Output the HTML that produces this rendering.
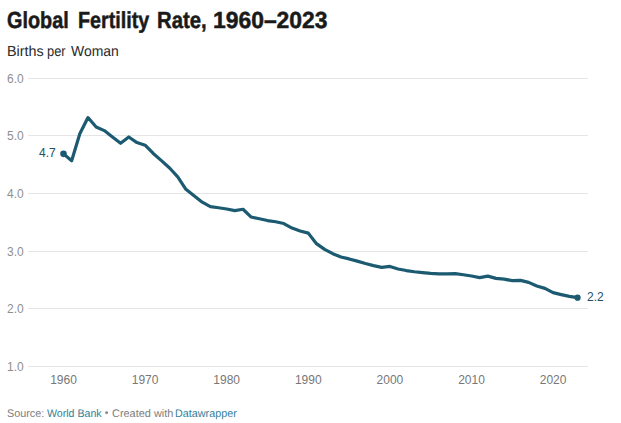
<!DOCTYPE html>
<html><head><meta charset="utf-8"><style>
html,body{margin:0;padding:0;background:#fff;width:621px;height:423px;overflow:hidden;position:relative}
body{font-family:"Liberation Sans",sans-serif}
span{position:absolute;white-space:nowrap;transform-origin:0 0}
.t{text-rendering:geometricPrecision;font-weight:bold;font-size:23.3px;color:#1a1a1a;line-height:25px;transform-origin:0 20px !important;-webkit-text-stroke:0.5px #1a1a1a}
.s{text-rendering:geometricPrecision;font-size:14.5px;color:#2a2a2a;line-height:16px}
.yl{position:absolute;left:7px;font-size:12px;color:#8f8f8f;line-height:16px}
.xl{position:absolute;top:372px;width:60px;text-align:center;font-size:12px;color:#777;line-height:16px}
.f{text-rendering:geometricPrecision;font-size:11px;color:#7d7d7d;line-height:13px}
.a{color:#337f98}
svg{position:absolute;left:0;top:0}
.vl{position:absolute;font-size:12px;color:#22505f;line-height:16px}
</style></head><body>
<span class="t" style="left:7.28px;top:8px;transform:scale(0.852,1.0);">Global</span>
<span class="t" style="left:78.14px;top:8px;transform:scale(0.846,1.0);">Fertility</span>
<span class="t" style="left:157.1px;top:8px;transform:scale(0.871,1.0);">Rate,</span>
<span class="t" style="left:213.11px;top:8px;transform:scale(0.982,1.0);">1960–2023</span>
<span class="s" style="left:6.8px;top:44.1px;transform:scale(0.989,1.0);">Births</span>
<span class="s" style="left:47.05px;top:44.1px;transform:scale(0.891,1.0);">per</span>
<span class="s" style="left:70.82px;top:44.1px;transform:scale(0.962,1.0);">Woman</span>

<svg width="621" height="423">
<line x1="28" x2="588" y1="366.5" y2="366.5" stroke="#e5e5e5" stroke-width="1"/>
<line x1="28" x2="588" y1="308.5" y2="308.5" stroke="#e5e5e5" stroke-width="1"/>
<line x1="28" x2="588" y1="251.5" y2="251.5" stroke="#e5e5e5" stroke-width="1"/>
<line x1="28" x2="588" y1="193.5" y2="193.5" stroke="#e5e5e5" stroke-width="1"/>
<line x1="28" x2="588" y1="135.5" y2="135.5" stroke="#e5e5e5" stroke-width="1"/>
<line x1="28" x2="588" y1="78.5" y2="78.5" stroke="#e5e5e5" stroke-width="1"/>

<polyline points="63.50,153.86 71.66,160.77 79.82,133.70 87.98,117.57 96.14,126.96 104.30,130.59 112.46,136.98 120.62,143.26 128.78,136.98 136.94,142.57 145.10,145.16 153.26,153.45 161.42,160.60 169.58,168.03 177.74,176.90 185.90,189.28 194.06,195.79 202.22,202.18 210.38,206.56 218.54,207.77 226.70,208.98 234.86,210.59 243.02,209.27 251.18,217.04 259.34,218.77 267.50,220.56 275.66,221.77 283.82,223.55 291.98,228.04 300.14,230.98 308.30,233.11 316.46,243.65 324.62,249.36 332.78,253.68 340.94,256.96 349.10,258.92 357.26,261.16 365.42,263.53 373.58,265.60 381.74,267.33 389.90,266.46 398.06,269.00 406.22,270.55 414.38,271.76 422.54,272.57 430.70,273.43 438.86,273.95 447.02,273.95 455.18,273.55 463.34,274.76 471.50,275.97 479.66,277.58 487.82,276.14 495.98,278.39 504.14,279.14 512.30,280.69 520.46,280.35 528.62,282.36 536.78,285.99 544.94,288.35 553.10,292.67 561.26,294.57 569.42,296.36 577.58,297.68" fill="none" stroke="#1b5a70" stroke-width="3.2" stroke-linejoin="round" stroke-linecap="round"/>
<circle cx="63.50" cy="153.86" r="3.3" fill="#1b5a70"/>
<circle cx="106.6" cy="412.8" r="1.45" fill="#888"/>
<circle cx="577.58" cy="297.68" r="3.1" fill="#1b5a70"/>
</svg>
<div class="yl" style="top:358.6px">1.0</div>
<div class="yl" style="top:300.6px">2.0</div>
<div class="yl" style="top:243.6px">3.0</div>
<div class="yl" style="top:185.6px">4.0</div>
<div class="yl" style="top:127.6px">5.0</div>
<div class="yl" style="top:70.6px">6.0</div>

<div class="xl" style="left:33.5px">1960</div>
<div class="xl" style="left:115.1px">1970</div>
<div class="xl" style="left:196.7px">1980</div>
<div class="xl" style="left:278.3px">1990</div>
<div class="xl" style="left:359.9px">2000</div>
<div class="xl" style="left:441.5px">2010</div>
<div class="xl" style="left:523.1px">2020</div>

<div class="vl" style="left:39px;top:145px">4.7</div>
<div class="vl" style="left:587px;top:289px">2.2</div>
<span class="f" style="left:6.88px;top:407.8px;transform:scale(0.983,1.0);">Source:</span>
<span class="f a" style="left:46.9px;top:407.8px;transform:scale(0.965,1.0);">World Bank</span>
<span class="f" style="left:111.8px;top:407.8px;transform:scale(0.994,1.0);">Created with</span>
<span class="f a" style="left:175.39px;top:407.8px;transform:scale(0.98,1.0);">Datawrapper</span>

</body></html>
